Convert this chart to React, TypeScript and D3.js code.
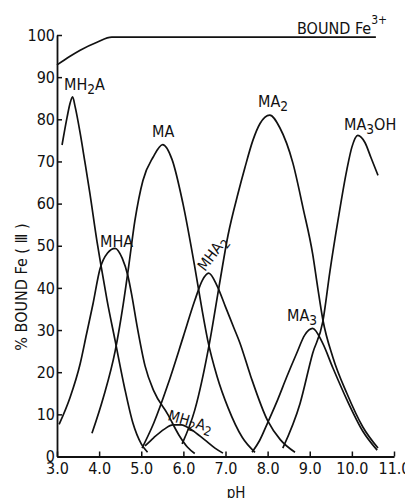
import React, { useEffect, useRef } from 'react';
import * as d3 from 'd3';

const xTicks = [3, 4, 5, 6, 7, 8, 9, 10, 11];
const yTicks = [0, 10, 20, 30, 40, 50, 60, 70, 80, 90, 100];

const boundFe3: [number, number][] = [[3.0, 92.9], [3.3, 94.9], [3.55, 96.4], [3.95, 98.3], [4.3, 99.5], [10.57, 99.5]];

const MH2A: [number, number][] = [[3.12, 73.9], [3.24, 80.5], [3.31, 83.8], [3.37, 85.3], [3.43, 83], [3.55, 76.7], [3.66, 70], [3.78, 62.5], [3.95, 51], [4.05, 45], [4.19, 37], [4.38, 27.5], [4.6, 16.5], [4.8, 8], [5.0, 3], [5.15, 1]];
const MHA: [number, number][] = [[3.05, 7.6], [3.31, 14], [3.55, 22], [3.7, 29], [3.85, 36], [4.02, 44.5], [4.2, 48.3], [4.38, 49.4], [4.55, 47], [4.68, 43], [4.78, 38], [4.9, 31], [5.09, 21.5], [5.3, 15.5], [5.63, 10], [5.9, 5], [6.1, 2.2], [6.27, 0.7]];
const MA: [number, number][] = [[3.83, 5.5], [4.1, 14], [4.38, 25], [4.57, 36], [4.7, 45], [4.85, 56], [5.04, 65.5], [5.28, 71], [5.51, 74], [5.73, 70.5], [5.99, 60], [6.27, 45], [6.44, 35], [6.58, 27.5], [6.8, 19], [7.06, 11.6], [7.4, 4.5], [7.7, 1]];
const MH2A2: [number, number][] = [[5.09, 2.5], [5.3, 4.5], [5.55, 6.5], [5.75, 7.5], [5.95, 7.5], [6.2, 6.3], [6.5, 4], [6.75, 2], [6.94, 0.8]];
const MHA2: [number, number][] = [[5.02, 2], [5.3, 8], [5.63, 17], [6.0, 28.5], [6.27, 37], [6.45, 41.8], [6.6, 43.5], [6.8, 40.5], [7.0, 35.5], [7.2, 30.5], [7.34, 27], [7.6, 19], [8.0, 8.5], [8.3, 4], [8.65, 1]];
const MA2: [number, number][] = [[5.97, 3], [6.27, 11], [6.63, 27.5], [6.85, 40.5], [7.06, 52.5], [7.3, 62.5], [7.46, 68.5], [7.65, 75], [7.82, 79], [8.05, 81], [8.29, 78], [8.6, 69.6], [8.84, 59], [9.07, 48], [9.19, 40], [9.31, 32.5], [9.55, 23.5], [9.88, 15], [10.26, 7], [10.62, 2]];
const MA3: [number, number][] = [[7.63, 1], [7.81, 3.8], [8.0, 8], [8.24, 13.5], [8.45, 18.8], [8.69, 24.5], [8.88, 28.8], [9.07, 30.4], [9.3, 27], [9.55, 21], [9.88, 13.5], [10.26, 6], [10.6, 1.5]];
const MA3OH: [number, number][] = [[8.36, 2], [8.77, 12.6], [9.07, 24.5], [9.31, 32], [9.48, 44], [9.67, 56], [9.88, 68], [10.0, 73.4], [10.14, 76.2], [10.31, 74.5], [10.45, 71], [10.62, 66.7]];

const species = [MH2A, MHA, MA, MH2A2, MHA2, MA2, MA3, MA3OH];

const W = 405;
const H = 498;
const FONT = "'Liberation Sans Narrow', 'DejaVu Sans Condensed', sans-serif";
const LFONT = "'DejaVu Sans Condensed', 'Liberation Sans Narrow', sans-serif";

export default function App() {
  const ref = useRef<SVGSVGElement>(null);

  useEffect(() => {
    const svg = d3.select(ref.current);
    svg.selectAll('*').remove();
    const x = d3.scaleLinear().domain([3, 11]).range([57, 394]);
    const y = d3.scaleLinear().domain([0, 100]).range([456.5, 35]);

    svg.append('rect').attr('width', W).attr('height', H).attr('fill', '#fff');

    const gx = svg.append('g').attr('transform', `translate(0,${y(0)})`)
      .call(d3.axisBottom(x).tickValues(xTicks).tickSizeInner(-5).tickSizeOuter(0).tickPadding(6).tickFormat(d3.format('.1f')));
    const gy = svg.append('g').attr('transform', `translate(${x(3)},0)`)
      .call(d3.axisLeft(y).tickValues(yTicks).tickSizeInner(-5).tickSizeOuter(0).tickPadding(2));
    [gx, gy].forEach((g) => {
      g.selectAll('path.domain').attr('stroke', '#111').attr('stroke-width', 1.8);
      g.selectAll('line').attr('stroke', '#111').attr('stroke-width', 1.5);
      g.selectAll('text').attr('font-family', FONT).attr('font-size', 16).attr('fill', '#111');
    });

    const line = d3.line<[number, number]>().x((d) => x(d[0])).y((d) => y(d[1])).curve(d3.curveMonotoneX);

    svg.append('path').attr('d', line(boundFe3) as string).attr('fill', 'none').attr('stroke', '#111').attr('stroke-width', 1.7);
    species.forEach((s) => {
      svg.append('path').attr('d', line(s) as string).attr('fill', 'none').attr('stroke', '#111').attr('stroke-width', 1.7);
    });

    const label = (parts: [string, boolean][], px: number, py: number, rot = 0, size = 16) => {
      const t = svg.append('text').attr('font-family', LFONT).attr('font-size', size).attr('fill', '#111')
        .attr('transform', `translate(${px},${py}) rotate(${rot})`);
      let sub = false;
      parts.forEach(([str, isSub]) => {
        const ts = t.append('tspan').text(str);
        if (isSub && !sub) { ts.attr('dy', 4).attr('font-size', size * 0.85); sub = true; }
        else if (!isSub && sub) { ts.attr('dy', -4); sub = false; }
      });
    };

    label([['MH', false], ['2', true], ['A', false]], 64, 90);
    label([['MHA', false]], 100, 247);
    label([['MA', false]], 152, 137);
    label([['MA', false], ['2', true]], 258, 107);
    label([['MA', false], ['3', true], ['OH', false]], 344, 130);
    label([['MA', false], ['3', true]], 287, 321);
    label([['MHA', false], ['2', true]], 205, 272, -53, 15);
    label([['MH', false], ['2', true], ['A', false], ['2', true]], 167, 420, 16, 15);

    const fe = svg.append('text').attr('font-family', LFONT).attr('font-size', 16).attr('fill', '#111')
      .attr('x', 297).attr('y', 34);
    fe.append('tspan').text('BOUND Fe');
    fe.append('tspan').text('3+').attr('font-size', 12).attr('dy', -10);

    svg.append('text').attr('font-family', LFONT).attr('font-size', 16).attr('fill', '#111')
      .attr('text-anchor', 'middle').attr('transform', `translate(27,287) rotate(-90)`)
      .text('% BOUND Fe ( \u2162 )');

    svg.append('text').attr('font-family', LFONT).attr('font-size', 15).attr('fill', '#111')
      .attr('text-anchor', 'middle').attr('x', 236).attr('y', 498).text('pH');
  }, []);

  return <svg ref={ref} width={W} height={H} style={{ position: 'absolute', left: 0, top: 0 }} />;
}
